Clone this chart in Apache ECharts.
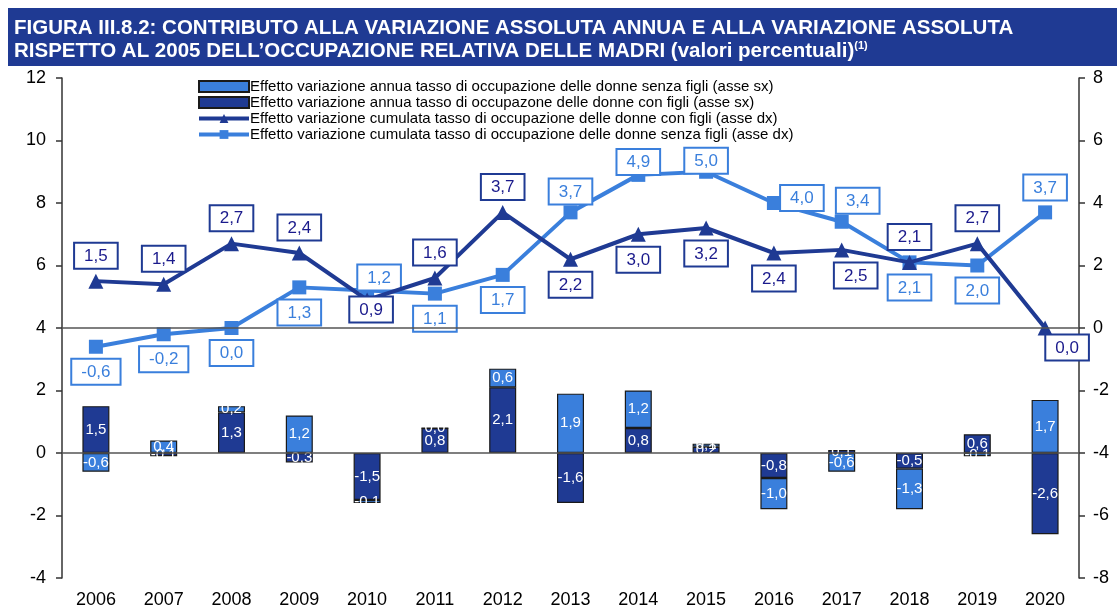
<!DOCTYPE html>
<html>
<head>
<meta charset="utf-8">
<script src="https://cdn.jsdelivr.net/npm/echarts@6/dist/echarts.min.js"></script>
<style>
html,body{margin:0;padding:0;background:#fff;}
#chart{width:1117px;height:610px;}
</style>
</head>
<body>
<div id="chart"></div>
<script>
// ---- data ----
const years = ['2006','2007','2008','2009','2010','2011','2012','2013','2014','2015','2016','2017','2018','2019','2020'];
const annuaSenza = [-0.6, 0.4, 0.2, 1.2, -0.1, 0.0, 0.6, 1.9, 1.2, 0.1, -1.0, -0.6, -1.3, -0.1, 1.7];
const annuaCon   = [1.5, -0.1, 1.3, -0.3, -1.5, 0.8, 2.1, -1.6, 0.8, 0.2, -0.8, 0.1, -0.5, 0.6, -2.6];
const cumulCon   = [1.5, 1.4, 2.7, 2.4, 0.9, 1.6, 3.7, 2.2, 3.0, 3.2, 2.4, 2.5, 2.1, 2.7, 0.0];
const cumulSenza = [-0.6, -0.2, 0.0, 1.3, 1.2, 1.1, 1.7, 3.7, 4.9, 5.0, 4.0, 3.4, 2.1, 2.0, 3.7];
const leftTicks  = [-4, 12, 2];
const rightTicks = [-8, 8, 2];
// label placement (style only)
const conLabelPos   = ['top','top','top','top','bottom','top','top','bottom','bottom','bottom','bottom','bottom','top','top','bottom'];
const senzaLabelPos = ['bottom','bottom','bottom','bottom','top','bottom','bottom','top','top','top','top','top','bottom','bottom','top'];

const DARK = '#1f3a93';
const LIGHT = '#3a7fdc';
const FONT = 'Liberation Sans, Arial, sans-serif';
const fmt = v => v.toFixed(1).replace('.', ',');

const names = [
  'Effetto variazione annua tasso di occupazione delle donne senza figli (asse sx)',
  'Effetto variazione annua tasso di occupazone delle donne con figli (asse sx)',
  'Effetto variazione cumulata tasso di occupazione delle donne con figli (asse dx)',
  'Effetto variazione cumulata tasso di occupazione delle donne senza figli (asse dx)'
];

function boxLabel(color, textColor) {
  return {
    show: true,
    formatter: p => fmt(p.value),
    backgroundColor: '#fff',
    borderColor: color,
    borderWidth: 2,
    padding: [4, 9, 3, 9],
    color: textColor,
    fontSize: 17,
    fontFamily: FONT,
    distance: 6
  };
}

function lineData(vals, pos, extraOffsets) {
  return vals.map((v, i) => {
    const o = { value: v, label: { position: pos[i] } };
    if (extraOffsets[i]) o.label.offset = extraOffsets[i];
    return o;
  });
}

const conOffsets = {4: [4, -16], 11: [14, 0], 14: [22, -6]};
const senzaOffsets = {4: [12, 12], 8: [0, 12], 9: [0, 14], 10: [28, 20], 11: [16, 4], 7: [0, 4]};

const chart = echarts.init(document.getElementById('chart'));
const TF = 'Liberation Sans Narrow, Arial Narrow, Liberation Sans, sans-serif';
chart.setOption({
  animation: false,
  backgroundColor: '#fff',
  graphic: [{
    type: 'rect', left: 8, top: 8, shape: { width: 1109, height: 58 },
    style: { fill: DARK }, silent: true
  }],
  title: {
    left: 9, top: 12,
    text: '{b|FIGURA III.8.2: CONTRIBUTO ALLA VARIAZIONE ASSOLUTA ANNUA E ALLA VARIAZIONE ASSOLUTA}\n{b|RISPETTO AL 2005 DELL\u2019OCCUPAZIONE RELATIVA DELLE MADRI }{b|(valori percentuali)}{s|(1)}',
    textStyle: {
      rich: {
        b: { color: '#fff', fontWeight: 'bold', fontSize: 20.5, fontFamily: TF, lineHeight: 23 },
        s: { color: '#fff', fontWeight: 'bold', fontSize: 11, fontFamily: TF, verticalAlign: 'top', lineHeight: 23 }
      }
    }
  },
  legend: {
    orient: 'vertical',
    left: 192, top: 74,
    itemGap: 1,
    itemWidth: 50, itemHeight: 11,
    data: [
      { name: names[0], icon: 'rect' },
      { name: names[1], icon: 'rect' },
      { name: names[2] },
      { name: names[3] }
    ],
    lineStyle: { width: 4 },
    textStyle: { fontSize: 15, color: '#000', fontFamily: FONT, padding: [0, 0, 0, -4] }
  },
  grid: { left: 62, right: 38, top: 78, bottom: 32 },
  xAxis: {
    type: 'category',
    data: years,
    axisLine: { show: false },
    axisTick: { show: false },
    axisLabel: { color: '#000', fontSize: 18, fontFamily: FONT, margin: 13 }
  },
  yAxis: [{
    type: 'value', min: leftTicks[0], max: leftTicks[1], interval: leftTicks[2],
    axisLine: { show: true, lineStyle: { color: '#333', width: 1.5 } },
    axisTick: { show: true, length: 6, lineStyle: { color: '#333', width: 1.5 } },
    splitLine: { show: false },
    axisLabel: { color: '#000', fontSize: 18, fontFamily: FONT, margin: 16 }
  }, {
    type: 'value', min: rightTicks[0], max: rightTicks[1], interval: rightTicks[2],
    position: 'right',
    axisLine: { show: true, lineStyle: { color: '#333', width: 1.5 } },
    axisTick: { show: true, length: 6, lineStyle: { color: '#333', width: 1.5 } },
    splitLine: { show: false },
    axisLabel: { color: '#000', fontSize: 18, fontFamily: FONT, margin: 14 }
  }],
  series: [{
    name: names[1],
    type: 'bar',
    stack: 'annua',
    barWidth: 27,
    data: annuaCon,
    itemStyle: { color: DARK, borderColor: '#1a1a1a', borderWidth: 1.2 },
    label: { show: true, position: 'inside', color: '#fff', fontSize: 15, fontFamily: FONT, formatter: p => fmt(p.value) },
    markLine: {
      silent: true, symbol: 'none', label: { show: false },
      lineStyle: { color: '#555', width: 1.5, type: 'solid' },
      data: [{ yAxis: 0 }]
    },
    z: 2
  }, {
    name: names[0],
    type: 'bar',
    stack: 'annua',
    barWidth: 27,
    data: annuaSenza,
    itemStyle: { color: LIGHT, borderColor: '#1a1a1a', borderWidth: 1.2 },
    label: { show: true, position: 'inside', color: '#fff', fontSize: 15, fontFamily: FONT, formatter: p => fmt(p.value) },
    z: 2
  }, {
    name: names[2],
    type: 'line',
    yAxisIndex: 1,
    data: lineData(cumulCon, conLabelPos, conOffsets),
    symbol: 'triangle', symbolSize: 15,
    lineStyle: { color: DARK, width: 4 },
    itemStyle: { color: DARK },
    label: boxLabel(DARK, '#1a1a8c'),
    markLine: {
      silent: true, symbol: 'none', label: { show: false },
      lineStyle: { color: '#555', width: 1.5, type: 'solid' },
      data: [{ yAxis: 0 }]
    },
    z: 4
  }, {
    name: names[3],
    type: 'line',
    yAxisIndex: 1,
    data: lineData(cumulSenza, senzaLabelPos, senzaOffsets),
    symbol: 'rect', symbolSize: 14,
    lineStyle: { color: LIGHT, width: 4 },
    itemStyle: { color: LIGHT },
    label: boxLabel(LIGHT, LIGHT),
    z: 3
  }]
});
</script>
</body>
</html>
